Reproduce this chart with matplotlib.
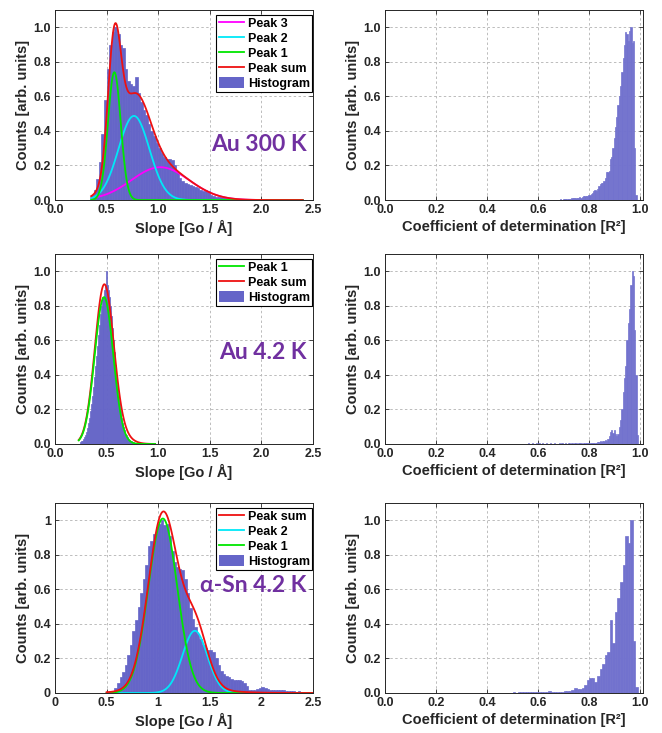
import numpy as np
import matplotlib
matplotlib.use("Agg")
import matplotlib.pyplot as plt
from matplotlib.patches import Patch
from matplotlib.lines import Line2D
from matplotlib.ticker import FuncFormatter

plt.rcParams['font.family'] = ['Liberation Sans', 'DejaVu Sans']
plt.rcParams['font.weight'] = 'bold'
plt.rcParams['axes.labelweight'] = 'bold'
plt.rcParams['path.simplify'] = False

# ---------------- DATA ----------------
# Slope histograms (bin start, bin width, normalized counts)
au300_slope_start = 0.35
au300_slope_step = 0.025
au300_slope_counts = [0.03, 0.06, 0.12, 0.22, 0.38, 0.58, 0.76, 0.90, 0.97, 1.00,
                      0.96, 0.90, 0.88, 0.76, 0.69, 0.67, 0.66, 0.71, 0.62, 0.57,
                      0.52, 0.49, 0.44, 0.40, 0.37, 0.33, 0.30, 0.27, 0.25, 0.24,
                      0.24, 0.23, 0.20, 0.16, 0.13, 0.11, 0.10, 0.09, 0.085, 0.08,
                      0.075, 0.07, 0.06, 0.055, 0.06, 0.05, 0.03, 0.025, 0.02, 0.018,
                      0.015, 0.02, 0.015, 0.01, 0.008, 0.005]

au42_slope_start = 0.24
au42_slope_step = 0.01
au42_slope_counts = [0.01, 0.015, 0.02, 0.03, 0.04, 0.05, 0.07, 0.09, 0.12, 0.15,
                     0.19, 0.23, 0.28, 0.33, 0.39, 0.45, 0.51, 0.57, 0.63, 0.69,
                     0.75, 0.80, 0.85, 0.89, 0.92, 1.00, 0.92, 0.89, 0.85, 0.80,
                     0.74, 0.67, 0.60, 0.53, 0.46, 0.40, 0.34, 0.28, 0.23, 0.19,
                     0.15, 0.12, 0.10, 0.08, 0.06, 0.05, 0.04, 0.03, 0.025, 0.02,
                     0.015, 0.012, 0.01, 0.008, 0.006, 0.005, 0.004, 0.003, 0.003, 0.002,
                     0.002, 0.002]

sn_slope_start = 0.55
sn_slope_step = 0.025
sn_slope_counts = [0.01, 0.03, 0.06, 0.09, 0.12, 0.16, 0.22, 0.28, 0.36, 0.42,
                   0.50, 0.58, 0.66, 0.74, 0.85, 0.88, 0.92, 0.96, 0.98, 1.00,
                   0.97, 0.98, 0.91, 0.82, 0.76, 0.73, 0.72, 0.71, 0.66, 0.58,
                   0.49, 0.43, 0.38, 0.34, 0.31, 0.28, 0.26, 0.25, 0.25, 0.24,
                   0.20, 0.16, 0.13, 0.11, 0.10, 0.09, 0.08, 0.075, 0.075, 0.075,
                   0.07, 0.06, 0.04, 0.02, 0.015, 0.02, 0.025, 0.03, 0.035, 0.03,
                   0.025, 0.02, 0.02, 0.02, 0.015, 0.015, 0.015, 0.012, 0.012, 0.01,
                   0.01, 0.008, 0.01, 0.008]

# Gaussian fit peaks: (centre, height, sigma)
au300_peak1 = (0.575, 0.74, 0.062)
au300_peak2 = (0.765, 0.487, 0.15)
au300_peak3 = (1.02, 0.19, 0.28)
au300_fit_range = (0.35, 2.4)

au42_peak1 = (0.475, 0.85, 0.09)
au42_extra = (0.55, 0.09, 0.12)
au42_fit_range = (0.23, 0.97)

sn_peak1 = (1.045, 1.01, 0.14)
sn_peak2 = (1.355, 0.36, 0.12)
sn_extra = (1.2, 0.03, 0.35)
sn_fit_range = (0.5, 2.5)

# R^2 histograms
au300_r2_start = 0.65
au300_r2_step = 0.005
au300_r2_counts = [0.002, 0.002, 0.002, 0.003, 0.002, 0.003, 0.003, 0.004, 0.003, 0.004,
                   0.005, 0.004, 0.006, 0.007, 0.008, 0.007, 0.010, 0.009, 0.011, 0.012,
                   0.010, 0.013, 0.015, 0.014, 0.020, 0.022, 0.022, 0.025, 0.026, 0.028,
                   0.030, 0.035, 0.040, 0.050, 0.058, 0.055, 0.065, 0.080, 0.095, 0.100,
                   0.100, 0.110, 0.130, 0.160, 0.160, 0.170, 0.240, 0.250, 0.300, 0.360,
                   0.420, 0.480, 0.550, 0.600, 0.660, 0.740, 0.820, 0.900, 0.970, 0.960,
                   0.920, 0.980, 1.000, 0.910, 0.920, 0.300, 0.030]

au42_r2_start = 0.56
au42_r2_step = 0.005
au42_r2_counts = [0.003, 0.002, 0.002, 0.003, 0.002, 0.002, 0.003, 0.002, 0.003, 0.002,
                  0.002, 0.003, 0.002, 0.002, 0.003, 0.002, 0.002, 0.003, 0.002, 0.002,
                  0.003, 0.002, 0.002, 0.002, 0.003, 0.002, 0.003, 0.002, 0.002, 0.003,
                  0.002, 0.003, 0.003, 0.002, 0.003, 0.002, 0.003, 0.003, 0.002, 0.003,
                  0.003, 0.003, 0.002, 0.004, 0.003, 0.003, 0.004, 0.003, 0.004, 0.003,
                  0.006, 0.005, 0.008, 0.006, 0.010, 0.012, 0.015, 0.010, 0.020, 0.018,
                  0.025, 0.020, 0.030, 0.045, 0.070, 0.080, 0.065, 0.080, 0.060, 0.045,
                  0.060, 0.100, 0.140, 0.200, 0.300, 0.380, 0.450, 0.600, 0.700, 0.780,
                  0.920, 1.000, 0.970, 0.660, 0.400, 0.050]

sn_r2_start = 0.50
sn_r2_step = 0.01
sn_r2_counts = [0.003, 0.002, 0.003, 0.003, 0.004, 0.003, 0.004, 0.003, 0.005, 0.004,
                0.004, 0.005, 0.006, 0.008, 0.013, 0.008, 0.006, 0.005, 0.007, 0.008,
                0.012, 0.010, 0.012, 0.015, 0.030, 0.025, 0.025, 0.030, 0.045, 0.075,
                0.085, 0.085, 0.065, 0.100, 0.140, 0.170, 0.220, 0.240, 0.420, 0.290,
                0.470, 0.550, 0.640, 0.740, 0.910, 0.870, 1.000, 0.300, 0.036]

sample_labels = ["Au 300 K", "Au 4.2 K", "α-Sn 4.2 K"]

# ---------------- STYLE ----------------
HIST_L = '#6565C8'
HIST_R = '#7272CE'
C_P1 = '#00E600'
C_P2 = '#00E8F8'
C_P3 = '#FF00FF'
C_SUM = '#EE1111'
PURPLE = '#7030A0'
AXC = '#262626'


def gauss(x, p):
    c, a, s = p
    return a * np.exp(-(x - c) ** 2 / (2 * s ** 2))


def draw_hist(ax, start, step, counts, color):
    left_edges = start + step * np.arange(len(counts))
    ax.bar(left_edges, counts, width=step, align='edge', color=color,
           edgecolor=color, linewidth=0.5, zorder=2)


fig = plt.figure(figsize=(6.62, 7.33), dpi=100)
lefts = [0.0831, 0.5816]
bottoms = [0.7271, 0.3943, 0.0546]
W, H = 0.3897, 0.2592


def style(ax, xlim, xticks, fmt):
    ax.set_xlim(*xlim)
    ax.set_ylim(0, 1.1)
    ax.set_xticks(xticks)
    ax.set_yticks(np.arange(0, 1.01, 0.2))
    ax.xaxis.set_major_formatter(FuncFormatter(lambda v, p: fmt(v)))
    ax.yaxis.set_major_formatter(FuncFormatter(lambda v, p: fmt(v)))
    ax.tick_params(direction='in', length=3, top=True, right=True, labelsize=9,
                   colors=AXC, width=0.6, pad=3)
    for sp in ax.spines.values():
        sp.set_color(AXC)
        sp.set_linewidth(0.7)
    ax.grid(True, color='#bcbcbc', linestyle=(0, (2.5, 2.5)), linewidth=0.7)
    ax.set_axisbelow(True)
    ax.set_ylabel('Counts [arb. units]', fontsize=10.5, color=AXC, labelpad=2)


f1 = lambda v: '%.1f' % v
fg = lambda v: '%g' % round(v, 2)

slope_data = [
    (au300_slope_start, au300_slope_step, au300_slope_counts),
    (au42_slope_start, au42_slope_step, au42_slope_counts),
    (sn_slope_start, sn_slope_step, sn_slope_counts),
]
r2_data = [
    (au300_r2_start, au300_r2_step, au300_r2_counts),
    (au42_r2_start, au42_r2_step, au42_r2_counts),
    (sn_r2_start, sn_r2_step, sn_r2_counts),
]

for row in range(3):
    fmt = fg if row == 2 else f1
    # ---- left: slope histogram + fits
    ax = fig.add_axes([lefts[0], bottoms[row], W, H])
    style(ax, (0, 2.5), np.arange(0, 2.51, 0.5), fmt)
    draw_hist(ax, *slope_data[row], HIST_L)
    ax.set_xlabel('Slope [Go / Å]', fontsize=10.5, color=AXC, labelpad=3)

    if row == 0:
        x = np.linspace(*au300_fit_range, 500)
        p1, p2, p3 = gauss(x, au300_peak1), gauss(x, au300_peak2), gauss(x, au300_peak3)
        ax.plot(x, p3, color=C_P3, lw=1.3, zorder=3)
        ax.plot(x, p2, color=C_P2, lw=1.3, zorder=3)
        ax.plot(x, p1, color=C_P1, lw=1.3, zorder=3)
        ax.plot(x, p1 + p2 + p3, color=C_SUM, lw=1.3, zorder=3)
        items = [('Peak 3', C_P3), ('Peak 2', C_P2), ('Peak 1', C_P1), ('Peak sum', C_SUM)]
    elif row == 1:
        x = np.linspace(*au42_fit_range, 500)
        p1, pe = gauss(x, au42_peak1), gauss(x, au42_extra)
        ax.plot(x, p1 + pe, color=C_SUM, lw=1.3, zorder=3)
        ax.plot(x, p1, color=C_P1, lw=1.3, zorder=3)
        items = [('Peak 1', C_P1), ('Peak sum', C_SUM)]
    else:
        x = np.linspace(*sn_fit_range, 500)
        p1, p2, pe = gauss(x, sn_peak1), gauss(x, sn_peak2), gauss(x, sn_extra)
        ax.plot(x, p2, color=C_P2, lw=1.3, zorder=3)
        ax.plot(x, p1, color=C_P1, lw=1.3, zorder=3)
        ax.plot(x, p1 + p2 + pe, color=C_SUM, lw=1.3, zorder=3)
        items = [('Peak sum', C_SUM), ('Peak 2', C_P2), ('Peak 1', C_P1)]

    handles = [Line2D([], [], color=c, lw=1.3) for _, c in items]
    labels = [l for l, _ in items]
    handles.append(Patch(facecolor=HIST_L, edgecolor='none'))
    labels.append('Histogram')
    leg = ax.legend(handles, labels, loc='upper right', bbox_to_anchor=(0.997, 0.975),
                    borderaxespad=0, frameon=True, fancybox=False,
                    edgecolor='black', framealpha=1, handlelength=2.0,
                    handleheight=0.9, handletextpad=0.3, borderpad=0.2,
                    labelspacing=0.2, prop={'weight': 'bold', 'size': 9})
    leg.get_frame().set_linewidth(0.8)
    leg.set_zorder(5)

    ytxt = [0.32, 0.53, 0.62][row]
    ax.text(2.44, ytxt, sample_labels[row], ha='right', va='center',
            fontsize=16.5, fontweight='bold', color=PURPLE,
            family=['Lato', 'DejaVu Sans'], zorder=4)

    # ---- right: R^2 histogram
    ax2 = fig.add_axes([lefts[1], bottoms[row], W, H])
    style(ax2, (0, 1.01), np.arange(0, 1.01, 0.2), f1)
    draw_hist(ax2, *r2_data[row], HIST_R)
    ax2.set_xlabel('Coefficient of determination [R²]', fontsize=10.5, color=AXC, labelpad=3)

fig.savefig('out.png', dpi=100)
